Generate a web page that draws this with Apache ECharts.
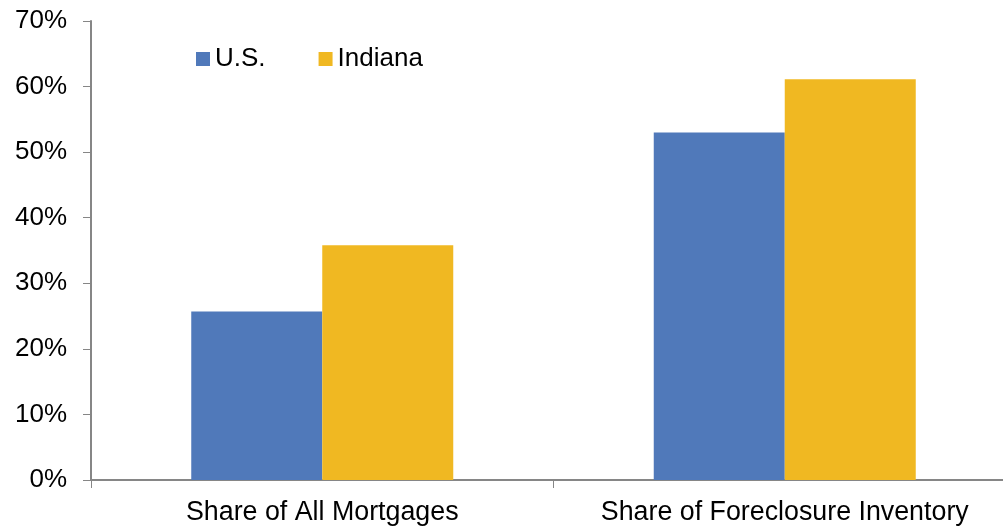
<!DOCTYPE html>
<html>
<head>
<meta charset="utf-8">
<script src="https://cdn.jsdelivr.net/npm/echarts@6/dist/echarts.min.js"></script>
<style>
  html, body { margin: 0; padding: 0; background: #fff; overflow: hidden; }
  /* the source plot runs a little past the right edge of the picture */
  #chart { width: 1016px; height: 527px; }
</style>
</head>
<body>
<div id="chart"></div>
<script>
  // categories and values (percent)
  var categories = ['Share of All Mortgages', 'Share of Foreclosure Inventory'];
  var usValues = [25.7, 53.0];
  var indianaValues = [35.8, 61.1];
  var yTicks = [0, 10, 20, 30, 40, 50, 60, 70];

  var axisColor = '#868686';
  var fontFamily = 'Arial, "Liberation Sans", sans-serif';

  var myChart = echarts.init(document.getElementById('chart'));
  var option = {
    backgroundColor: '#fff',
    animation: false,
    color: ['#5079BA', '#F0B822'],
    legend: {
      data: ['U.S.', 'Indiana'],
      icon: 'rect',
      itemWidth: 14,
      itemHeight: 14,
      itemGap: 53,
      left: 191,
      top: 41,
      textStyle: { color: '#000', fontSize: 26, fontFamily: fontFamily }
    },
    grid: {
      left: 91,
      top: 21,
      right: 0,
      bottom: 47,
      containLabel: false
    },
    xAxis: {
      type: 'category',
      data: categories,
      axisLine: { show: true, lineStyle: { color: axisColor, width: 2 } },
      axisTick: { show: true, length: 8, lineStyle: { color: axisColor, width: 1 } },
      axisLabel: {
        interval: 0,
        color: '#000',
        fontSize: 26.8,
        fontFamily: fontFamily,
        margin: 19
      },
      splitLine: { show: false }
    },
    yAxis: {
      type: 'value',
      min: yTicks[0],
      max: yTicks[yTicks.length - 1],
      interval: 10,
      axisLine: { show: true, lineStyle: { color: axisColor, width: 2 } },
      axisTick: { show: true, length: 8, lineStyle: { color: axisColor, width: 1 } },
      axisLabel: {
        color: '#000',
        fontSize: 26,
        fontFamily: fontFamily,
        margin: 24,
        formatter: '{value}%'
      },
      splitLine: { show: false }
    },
    series: [
      {
        name: 'U.S.',
        type: 'bar',
        data: usValues,
        barWidth: 131,
        barGap: '0%'
      },
      {
        name: 'Indiana',
        type: 'bar',
        data: indianaValues,
        barWidth: 131,
        barGap: '0%'
      }
    ]
  };
  myChart.setOption(option);
  window.addEventListener('resize', function () { myChart.resize(); });
</script>
</body>
</html>
